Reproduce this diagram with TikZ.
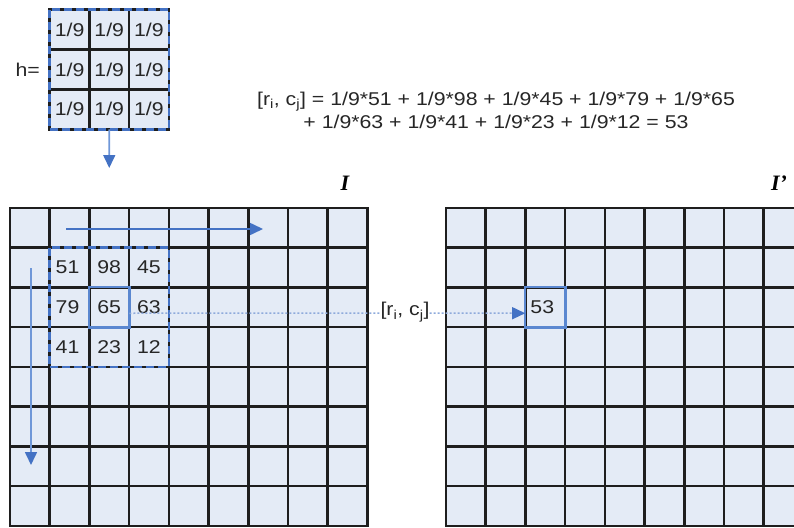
\documentclass[tikz,border=0pt]{standalone}
\usepackage{fontspec}
\setmainfont[FakeStretch=1.15]{Liberation Sans}
\newfontfamily\labelfont{Liberation Serif}
\usetikzlibrary{arrows.meta}
\definecolor{cellfill}{HTML}{E4EBF6}
\definecolor{accent}{HTML}{4472C4}
\definecolor{hiblue}{HTML}{5A87D0}
\definecolor{shaft}{HTML}{6F97D8}
\definecolor{dotline}{HTML}{8EAADB}
\definecolor{gridline}{HTML}{1E1E1E}
\definecolor{txt}{HTML}{262626}
\begin{document}
\begin{tikzpicture}[x=1pt,y=-1pt,
  cell/.style={rectangle,minimum size=39.7pt,inner sep=0pt,fill=cellfill},
  cellborder/.style={draw=gridline,line width=2.2pt},
  num/.style={text=txt,font=\fontsize{18.5}{21}\selectfont,inner sep=0pt},
  outline/.style={draw=gridline,line width=2.6pt},
  dashbox/.style={draw=accent,line width=2.6pt,dash pattern=on 8pt off 4pt},
  hilite/.style={draw=hiblue,line width=2.5pt},
  flowarrow/.style={draw=shaft,line width=1.6pt,-{Triangle[length=13pt,width=12pt,color=accent]}},
  dotarrow/.style={draw=dotline,line width=1.5pt,dash pattern=on 2pt off 2pt},
  imglabel/.style={font=\labelfont\bfseries\itshape\fontsize{22}{24}\selectfont,text=black,inner sep=0pt}]
\useasboundingbox (0,0) rectangle (794,527);
\clip (0,0) rectangle (794,527);

% kernel h
\foreach \r in {1,2,3}{\foreach \c in {1,2,3}{
  \node[cell] (K-\r-\c) at ({49.7+(\c-0.5)*39.7},{10+(\r-0.5)*39.7}) {};
}}
\foreach \r in {1,2,3}{\foreach \c in {1,2,3}{
  \draw[cellborder] (K-\r-\c.north west) rectangle (K-\r-\c.south east);
  \node[num] at (K-\r-\c) {1/9};
}}
\draw[outline] (K-1-1.north west) rectangle (K-3-3.south east);
\draw[dashbox] (K-1-1.north west) rectangle (K-3-3.south east);
\node[num,anchor=east] (hlabel) at (40,70) {h=};

% formula
\node[num,align=center,font=\fontsize{18.5}{23}\selectfont] (formula) at (496,110)
  {[r\textsubscript{i}, c\textsubscript{j}] = 1/9*51 + 1/9*98 + 1/9*45 + 1/9*79 + 1/9*65\\
   + 1/9*63 + 1/9*41 + 1/9*23 + 1/9*12 = 53};

% left image grid I and right image grid I'
\foreach \r in {1,...,8}{\foreach \c in {1,...,9}{
  \node[cell] (L-\r-\c) at ({10+(\c-0.5)*39.7},{208+(\r-0.5)*39.7}) {};
  \node[cell] (R-\r-\c) at ({446+(\c-0.5)*39.7},{208+(\r-0.5)*39.7}) {};
}}
\foreach \r in {1,...,8}{\foreach \c in {1,...,9}{
  \draw[cellborder] (L-\r-\c.north west) rectangle (L-\r-\c.south east);
  \draw[cellborder] (R-\r-\c.north west) rectangle (R-\r-\c.south east);
}}

\node[num,xshift=-2pt] at (L-2-2) {51};
\node[num] at (L-2-3) {98};
\node[num] at (L-2-4) {45};
\node[num,xshift=-2pt] at (L-3-2) {79};
\node[num] at (L-3-3) {65};
\node[num] at (L-3-4) {63};
\node[num,xshift=-2pt] at (L-4-2) {41};
\node[num] at (L-4-3) {23};
\node[num] at (L-4-4) {12};

\draw[outline,line width=2.2pt] (L-2-2.north west) rectangle (L-4-4.south east);
\draw[dashbox] (L-2-2.north west) rectangle (L-4-4.south east);
\draw[hilite] (L-3-3.north west) rectangle (L-3-3.south east);

\node[num,xshift=-3pt] at (R-3-3) {53};
\draw[hilite] (R-3-3.north west) rectangle (R-3-3.south east);

\node[imglabel] (Ilabel) at (345,183) {I};
\node[imglabel] (Iplabel) at (779,183) {I’};

% arrows
\coordinate (ktip) at (109.25,168);
\draw[flowarrow] (K-3-2.south) -- (ktip);
\coordinate (hstart) at (66,229);
\coordinate (hend) at (263,229);
\draw[flowarrow,draw=accent] (hstart) -- (hend);
\coordinate (vstart) at (31,268);
\coordinate (vend) at (31,465);
\draw[flowarrow] (vstart) -- (vend);

\node[num] (rc) at (405,312) {[r\textsubscript{i}, c\textsubscript{j}]};
\draw[dotarrow] ([yshift=-6pt]L-3-3.east) -- (rc.west |- 0,313);
\draw[dotarrow,-{Triangle[length=13pt,width=12pt,color=accent]}] (rc.east |- 0,313) -- ([yshift=-6pt]R-3-3.west);
\end{tikzpicture}
\end{document}
